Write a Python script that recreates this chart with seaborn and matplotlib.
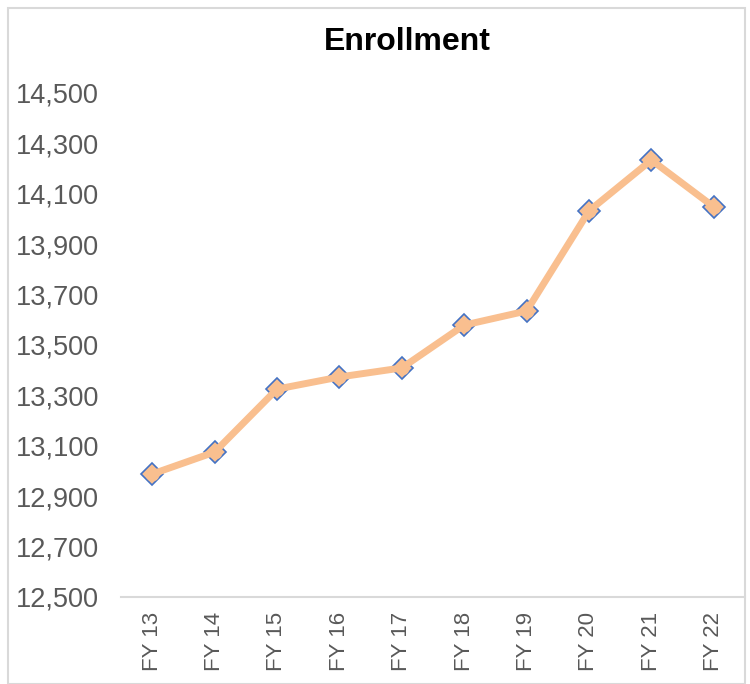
import matplotlib
matplotlib.use("Agg")
import matplotlib.pyplot as plt
import seaborn as sns
import pandas as pd
from matplotlib.patches import Rectangle
from matplotlib.ticker import FuncFormatter

years = ["FY 13", "FY 14", "FY 15", "FY 16", "FY 17", "FY 18", "FY 19", "FY 20", "FY 21", "FY 22"]
enrollment = [12988, 13075, 13325, 13373, 13409, 13579, 13635, 14032, 14234, 14048]
yticks = [12500, 12700, 12900, 13100, 13300, 13500, 13700, 13900, 14100, 14300, 14500]

sns.set_theme(style="white")
plt.rcParams['font.family'] = ['Liberation Sans', 'DejaVu Sans']

df = pd.DataFrame({"year": years, "enrollment": enrollment})
peach = "#F9BF8F"

fig = plt.figure(figsize=(7.5, 6.84), dpi=100)
ax = fig.add_axes([121/750, (684-597)/684, 624/750, 504/684])

# blue-edged diamond markers underneath
sns.lineplot(data=df, x="year", y="enrollment", ax=ax, sort=False,
             color=peach, linestyle="none", marker="D", markersize=11,
             markerfacecolor=peach, markeredgecolor="#4472C4", markeredgewidth=1.2,
             zorder=2)
# thick peach line with round markers on top
sns.lineplot(data=df, x="year", y="enrollment", ax=ax, sort=False,
             color=peach, linewidth=5, marker="o", markersize=10,
             markerfacecolor=peach, markeredgewidth=0, zorder=3)
for ln in ax.lines:
    ln.set_solid_joinstyle("round")
    ln.set_solid_capstyle("round")

ax.set_xlim(-0.5, len(years) - 0.5)
ax.set_ylim(12500, 14500)
ax.set_yticks(yticks)
ax.yaxis.set_major_formatter(FuncFormatter(lambda v, p: f"{int(v):,}"))
ax.set_xlabel("")
ax.set_ylabel("")
for s in ["left", "right", "top"]:
    ax.spines[s].set_visible(False)
ax.spines["bottom"].set_color("#D9D9D9")
ax.spines["bottom"].set_linewidth(1.5)
ax.tick_params(axis="y", labelsize=19.5, labelcolor="#595959", pad=16, length=0)
ax.tick_params(axis="x", labelsize=16, labelcolor="#595959", pad=11, length=0, labelrotation=90)
ax.grid(False)

fig.text(407/750, 1 - 42/684, "Enrollment", ha="center", va="center",
         fontsize=23, fontweight="bold", color="black")

fig.patches.append(Rectangle((8/750, 0), (745-8)/750, 1 - 8/684, transform=fig.transFigure,
                             fill=False, edgecolor="#D9D9D9", linewidth=1.5, zorder=0))

fig.savefig("out.png", dpi=100)
